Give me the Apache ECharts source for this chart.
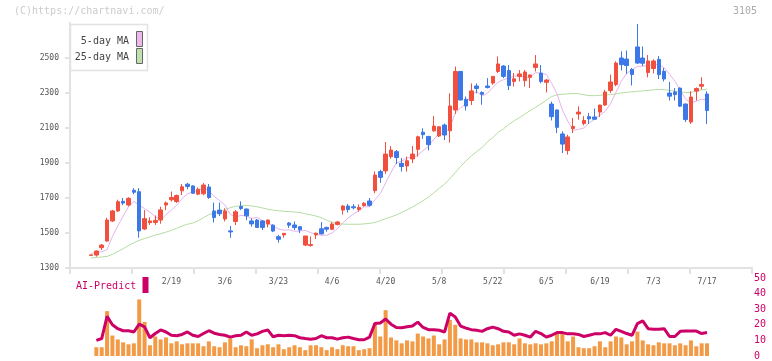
<!DOCTYPE html>
<html>
<head>
<meta charset="utf-8">
<script src="https://cdn.jsdelivr.net/npm/echarts/dist/echarts.min.js"></script>
<style>
html, body { margin: 0; padding: 0; background: #fff; }
#chart-con { width: 772px; height: 361px; }
</style>
</head>
<body>
<div id="chart-con"></div>
<script>
//ラベル
var dateLabels = ['2/19', '3/6', '3/23', '4/6', '4/20', '5/8', '5/22', '6/5', '6/19', '7/3', '7/17'];
var firstLabel = 15;
var labelStep = 10;
var priceTicks = [1300, 1500, 1700, 1900, 2100, 2300, 2500];

//日足 (始値, 終値, 安値, 高値)
var opens = [1372,1374,1416,1454,1569,1626,1681,1660,1744,1736,
    1523,1559,1560,1574,1660,1690,1680,1741,1779,1769,
    1722,1724,1763,1626,1631,1580,1512,1566,1651,1637,
    1569,1574,1569,1551,1545,1479,1489,1557,1546,1536,
    1431,1428,1489,1524,1532,1521,1549,1631,1654,1650,
    1634,1657,1683,1742,1851,1855,1936,1965,1898,1883,
    1923,1978,2076,2052,2084,2054,2117,2084,2203,2423,
    2264,2257,2340,2303,2340,2357,2423,2454,2429,2366,
    2395,2371,2390,2446,2414,2361,2237,2203,2066,1971,
    2097,2180,2126,2165,2163,2191,2231,2314,2348,2500,
    2494,2435,2563,2500,2417,2440,2492,2424,2300,2306,
    2328,2237,2134,2311,2339,2294];
var closes = [1375,1397,1431,1574,1626,1679,1671,1698,1733,1512,
    1582,1569,1572,1632,1672,1703,1714,1764,1766,1727,
    1750,1774,1703,1588,1610,1626,1506,1621,1640,1598,
    1552,1532,1532,1574,1511,1464,1498,1545,1531,1518,
    1483,1434,1499,1495,1522,1551,1563,1654,1634,1644,
    1646,1670,1658,1831,1818,1951,1974,1931,1880,1913,
    1951,2050,2062,2005,2111,2107,2060,2226,2423,2260,
    2226,2312,2326,2293,2331,2395,2466,2395,2343,2381,
    2409,2420,2403,2466,2366,2374,2165,2104,2008,2049,
    2109,2191,2143,2152,2150,2231,2306,2363,2471,2462,
    2457,2406,2471,2470,2483,2483,2405,2380,2282,2291,
    2225,2148,2277,2326,2348,2200];
var lows = [1372,1365,1403,1450,1563,1620,1660,1652,1721,1473,
    1517,1546,1546,1553,1631,1680,1672,1717,1750,1724,
    1717,1716,1695,1560,1597,1566,1473,1546,1631,1574,
    1537,1530,1517,1532,1505,1445,1473,1529,1517,1500,
    1425,1423,1466,1492,1507,1517,1543,1605,1617,1635,
    1622,1651,1651,1727,1787,1838,1925,1894,1851,1851,
    1899,1936,2038,1972,2078,2048,2031,2016,2180,2258,
    2200,2231,2298,2233,2326,2347,2414,2385,2317,2337,
    2366,2337,2328,2423,2355,2303,2143,2071,1957,1948,
    2071,2147,2115,2123,2148,2163,2226,2300,2339,2429,
    2409,2343,2466,2454,2389,2412,2380,2366,2257,2257,
    2220,2134,2123,2257,2320,2123];
var highs = [1375,1400,1437,1586,1632,1690,1700,1705,1756,1756,
    1631,1590,1600,1650,1680,1737,1720,1780,1786,1772,
    1760,1786,1780,1674,1674,1641,1540,1631,1681,1640,
    1584,1580,1574,1576,1550,1489,1500,1563,1566,1540,
    1483,1480,1502,1562,1536,1562,1568,1660,1666,1665,
    1664,1676,1700,1852,1862,2020,1997,1974,1928,1937,
    1997,2056,2098,2052,2168,2111,2126,2298,2451,2426,
    2280,2355,2355,2310,2385,2395,2509,2460,2460,2414,
    2431,2431,2405,2517,2460,2380,2251,2205,2081,2062,
    2157,2224,2168,2186,2211,2233,2318,2405,2481,2538,
    2543,2443,2694,2566,2517,2492,2511,2443,2363,2328,
    2332,2240,2310,2332,2390,2310];

//移動平均
var ma5 = [1383,1388,1393,1405,
    1480,1541,1596,1650,1681,1659,1639,1619,1594,1573,
    1605,1630,1659,1697,1724,1735,1744,1756,1744,1708,
    1685,1660,1607,1590,1601,1598,1583,1589,1571,1558,
    1540,1523,1516,1518,1510,1511,1515,1502,1493,1486,
    1487,1500,1526,1557,1585,1609,1628,1650,1650,1690,
    1725,1786,1846,1901,1911,1930,1930,1945,1971,1996,
    2036,2067,2069,2102,2185,2215,2239,2289,2309,2283,
    2298,2331,2362,2376,2386,2396,2399,2390,2391,2416,
    2413,2406,2355,2295,2203,2140,2087,2092,2100,2129,
    2149,2173,2196,2240,2304,2367,2412,2432,2453,2453,
    2457,2463,2462,2444,2407,2368,2317,2265,2245,2253,
    2265,2260];
var ma25 = [1358,1360,1363,1366,1378,1394,1410,1428,1444,1458,
    1468,1478,1488,1496,1505,1515,1527,1540,1550,1557,
    1570,1588,1605,1615,1622,1634,1645,1652,1656,1657,
    1655,1650,1643,1636,1631,1627,1624,1622,1620,1617,
    1610,1604,1597,1588,1573,1561,1553,1551,1550,1550,
    1550,1552,1555,1560,1570,1582,1592,1603,1618,1632,
    1648,1666,1685,1705,1730,1755,1780,1810,1845,1880,
    1912,1940,1965,1988,2020,2045,2075,2095,2120,2142,
    2160,2180,2200,2218,2238,2258,2280,2290,2293,2295,
    2297,2296,2290,2285,2285,2287,2289,2291,2295,2300,
    2304,2307,2310,2312,2315,2318,2320,2319,2315,2310,
    2306,2302,2303,2310,2318,2321];

//出来高とAI-Predict
var volumes = ['-',90,90,460,210,170,140,120,130,580,
    350,110,200,170,190,130,150,120,130,130,
    130,100,150,100,90,140,180,90,110,100,
    170,80,110,120,90,120,70,90,110,90,
    60,110,110,90,60,90,70,110,100,100,
    60,70,80,340,200,470,190,160,130,160,
    150,230,200,180,210,120,170,370,320,180,
    170,170,140,140,130,110,120,140,140,120,
    180,130,120,130,120,130,150,240,240,150,
    200,90,80,80,100,150,90,150,200,190,
    120,150,250,160,120,110,140,130,130,110,
    130,110,160,100,130,130];
var aiPredict = ['-',10,11.2,25.4,20,17.5,16.2,16.2,15.4,20.4,
    18.7,11.7,14.4,16.7,15.4,13.3,13,13.8,15.4,13.3,
    12.5,14.4,16.2,14.6,13.8,13.3,12.1,13,13.3,15.4,
    13.3,14.2,15.8,16.7,12.3,13.3,13,13.3,13,11.7,
    11.2,10.8,11.2,13,11.7,11.7,10.8,11.7,12.1,11.2,
    10.4,10.4,12.1,20.8,21.2,23.7,20.4,18.3,18.1,18.7,
    19.2,21.7,18.3,16.9,16.9,16.5,15.4,27.5,25,19.2,
    17.9,16.9,16.5,15.8,17.5,18.5,17.5,15.8,15.4,13.3,
    14.2,13.3,12.1,15.8,14.4,12.1,13.3,15,15,14.2,
    14.2,13.8,12.5,13.3,14.2,14.2,15,13.3,17.1,15.8,
    14.4,13.3,20.8,22.5,17.5,17.1,17.1,17.5,12.5,12.5,
    15.8,16,16,16,14.4,15];

var days = [];
var candles = [];
for (var i = 0; i < closes.length; i++) {
    var k = (i - firstLabel) / labelStep;
    days.push(i >= firstLabel && k % 1 === 0 ? dateLabels[k] : '');
    candles.push([opens[i], closes[i], lows[i], highs[i]]);
}

var mono = 'DejaVu Sans Mono';
var axisGray = '#e2e2e2';
var magenta = '#cc0066';
// ローソク足の枠 (1本 5.357px)
var candleLeft = 88.32;
var candleRight = 62.3;

var dom = document.getElementById('chart-con');
var myChart = echarts.init(dom);
var option;

option = {
    animation: false,
    textStyle: { fontFamily: mono },
    grid: [
        { left: 70, right: 20, top: 23, bottom: 93 },
        { left: candleLeft, right: candleRight, top: 23, bottom: 93 },
        { left: candleLeft, right: candleRight, top: 278, bottom: 3 }
    ],
    xAxis: [
        {
            gridIndex: 0, type: 'value', min: 0, max: 11, interval: 1,
            axisLine: { lineStyle: { color: axisGray, width: 2 } },
            axisTick: { length: 6, lineStyle: { color: axisGray, width: 2 } },
            axisLabel: { show: false },
            splitLine: { show: false }
        },
        {
            gridIndex: 1, type: 'category', data: days, boundaryGap: true,
            axisLine: { show: false },
            axisTick: { show: false },
            axisLabel: { interval: 0, margin: 10, color: '#555', fontSize: 8, fontFamily: mono }
        },
        {
            gridIndex: 2, type: 'category', data: days, boundaryGap: true, show: false
        }
    ],
    yAxis: [
        {
            gridIndex: 0, type: 'value', min: 1300, max: 2700,
            axisLine: { show: true, lineStyle: { color: axisGray, width: 2 } },
            axisTick: { show: true, length: 5, customValues: priceTicks, lineStyle: { color: axisGray, width: 2 } },
            axisLabel: {
                customValues: priceTicks, margin: 11, color: '#555', fontSize: 8, fontFamily: mono,
                formatter: function (v) { return String(v); }
            },
            splitLine: { show: false }
        },
        {
            gridIndex: 1, type: 'value', min: 1300, max: 2700, show: false
        },
        {
            gridIndex: 2, type: 'value', min: 0, max: 50, interval: 10,
            position: 'right', offset: 42.3,
            axisLine: { show: false },
            axisTick: { show: false },
            axisLabel: { margin: 2, color: magenta, fontSize: 10, fontFamily: mono },
            splitLine: { show: false }
        },
        {
            gridIndex: 2, type: 'value', min: 0, max: 800, show: false
        }
    ],
    graphic: [
        { type: 'text', left: 14, top: 6, style: { text: '(C)https://chartnavi.com/', fill: '#cccccc', font: '10px ' + mono } },
        { type: 'text', right: 15, top: 6, style: { text: '3105', fill: '#aaa', font: '10px ' + mono } },
        { type: 'rect', shape: { x: 70.5, y: 24.5, width: 77, height: 46 }, style: { fill: '#fff', stroke: '#e2e2e2', lineWidth: 1.5 }, z: 10 },
        { type: 'text', x: 129, y: 41, style: { text: '5-day MA', fill: '#444', font: '10px ' + mono, align: 'right', verticalAlign: 'middle' }, z: 11 },
        { type: 'text', x: 129, y: 57, style: { text: '25-day MA', fill: '#444', font: '10px ' + mono, align: 'right', verticalAlign: 'middle' }, z: 11 },
        { type: 'rect', shape: { x: 136.5, y: 31.5, width: 6, height: 15 }, style: { fill: '#ecb8ec', stroke: '#666', lineWidth: 1 }, z: 11 },
        { type: 'rect', shape: { x: 136.5, y: 48.5, width: 6, height: 15 }, style: { fill: '#bfe0b0', stroke: '#666', lineWidth: 1 }, z: 11 },
        { type: 'text', x: 76, y: 286, style: { text: 'AI-Predict', fill: magenta, font: '10px ' + mono, verticalAlign: 'middle' } },
        { type: 'rect', shape: { x: 142.5, y: 277, width: 6, height: 16 }, style: { fill: magenta } }
    ],
    series: [
        {
            name: '25-day MA', type: 'line', xAxisIndex: 1, yAxisIndex: 1,
            data: ma25, symbol: 'none', z: 1,
            lineStyle: { width: 1, color: '#b4dca0' }
        },
        {
            name: '5-day MA', type: 'line', xAxisIndex: 1, yAxisIndex: 1,
            data: ma5, symbol: 'none', z: 1,
            lineStyle: { width: 1, color: '#e6b2ec' }
        },
        {
            name: 'price', type: 'candlestick', xAxisIndex: 1, yAxisIndex: 1,
            data: candles, barWidth: 4, z: 2,
            itemStyle: {
                color: '#f2503e', color0: '#3c78e8',
                borderColor: '#f2503e', borderColor0: '#3c78e8', borderWidth: 1
            }
        },
        {
            name: 'volume', type: 'bar', xAxisIndex: 2, yAxisIndex: 3,
            data: volumes, barWidth: 4,
            itemStyle: { color: '#f29a45' }
        },
        {
            name: 'AI-Predict', type: 'line', xAxisIndex: 2, yAxisIndex: 2,
            data: aiPredict, symbol: 'none', z: 3,
            lineStyle: { width: 3, color: magenta }
        }
    ]
};

if (option && typeof option === 'object') {
    myChart.setOption(option);
}
</script>
</body>
</html>
